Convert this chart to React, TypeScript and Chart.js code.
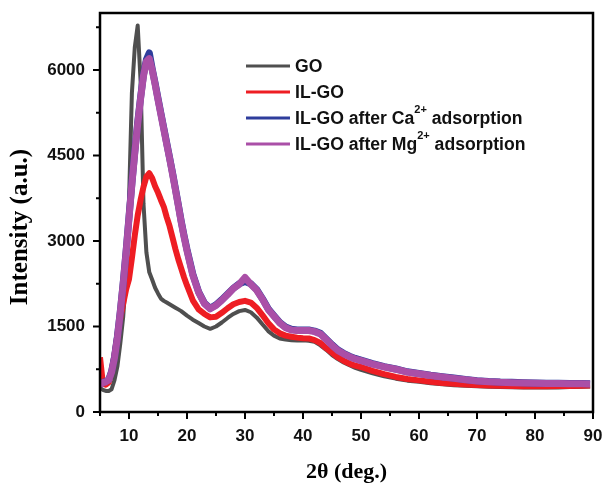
import React, { useEffect, useRef } from "react";
import { Chart, registerables } from "chart.js";

Chart.register(...registerables);

const twoTheta = [
  5, 5.5, 6, 6.5, 7, 7.5, 8, 8.5, 9, 9.5, 10, 10.5, 11, 11.5, 12, 12.5, 13, 13.5, 14, 14.5, 15, 15.5, 16, 16.5, 17, 17.5, 18, 18.5, 19, 19.5, 20,
  21, 22, 23, 24, 25, 26, 27, 28, 29, 30, 31, 32, 33, 34, 35, 36, 37, 38, 39, 40, 41, 42, 43, 44, 45, 46, 47, 48, 49, 50,
  52, 54, 56, 58, 60, 62, 64, 66, 68, 70, 72, 74, 76, 78, 80, 82, 84, 86, 88, 89.5,
];

const goValues = [
  420, 390, 370, 370, 400, 560, 800, 1200, 1670, 2400, 3700, 5600, 6400, 6780, 5800, 3650, 2800, 2450, 2320, 2180, 2080, 1990, 1950, 1920, 1890, 1860, 1830, 1800, 1770, 1730, 1690,
  1620, 1560, 1500, 1460, 1500, 1570, 1650, 1720, 1770, 1790, 1750, 1660, 1540, 1420, 1340, 1290, 1270, 1260, 1255, 1260, 1250, 1230, 1170, 1090, 1000, 930, 870, 820, 775, 740,
  680, 625, 585, 550, 530, 505, 485, 470, 460, 450, 445, 440, 435, 430, 428, 430, 432, 438, 442, 448,
];

const ilgoValues = [
  960, 500, 480, 520, 700, 1000, 1350, 1650, 1900, 2150, 2330, 2700, 3100, 3450, 3720, 3950, 4130, 4190, 4100, 3960, 3850, 3720, 3600, 3420, 3260, 3060, 2860, 2680, 2520, 2360, 2220,
  1960, 1800, 1720, 1660, 1670, 1740, 1820, 1890, 1930, 1950, 1920, 1830, 1700, 1560, 1450, 1380, 1340, 1320, 1305, 1295, 1290, 1260, 1210, 1120, 1040, 960, 900, 850, 815, 790,
  720, 665, 615, 580, 555, 530, 510, 495, 482, 472, 466, 460, 456, 452, 450, 452, 455, 457, 460, 465,
];

const caValues = [
  480, 520, 535, 565, 710, 960, 1320, 1760, 2260, 2820, 3420, 4020, 4570, 5080, 5520, 5920, 6180, 6300, 6020, 5770, 5500, 5240, 4980, 4720, 4460, 4200, 3920, 3640, 3350, 3090, 2850,
  2420, 2110, 1910, 1820, 1880, 1970, 2070, 2170, 2250, 2290, 2250, 2150, 1990, 1810, 1690, 1570, 1490, 1450, 1440, 1440, 1440, 1420, 1380, 1280, 1180, 1090, 1030, 980, 940, 910,
  850, 795, 755, 705, 675, 645, 620, 595, 570, 550, 535, 525, 520, 515, 510, 505, 503, 500, 498, 495,
];

const mgValues = [
  470, 515, 530, 560, 700, 950, 1300, 1750, 2250, 2800, 3400, 4000, 4550, 5050, 5500, 5900, 6150, 6200, 6000, 5750, 5480, 5220, 4960, 4700, 4450, 4180, 3900, 3620, 3330, 3070, 2830,
  2400, 2100, 1900, 1810, 1870, 1960, 2060, 2170, 2240, 2360, 2240, 2140, 1980, 1800, 1680, 1560, 1480, 1440, 1430, 1430, 1430, 1410, 1370, 1270, 1170, 1080, 1020, 970, 930, 900,
  840, 790, 750, 700, 670, 640, 615, 590, 565, 545, 530, 520, 515, 510, 505, 500, 500, 495, 495, 490,
];

const seriesNames = ["GO", "IL-GO", "IL-GO after Ca2+ adsorption", "IL-GO after Mg2+ adsorption"];
const seriesColors = ["#4f4f4f", "#ee1d23", "#2e3d9c", "#aa4fa7"];
const seriesWidths = [4, 6, 7, 7];
const yMajorTicks = [0, 1500, 3000, 4500, 6000];
const yMinorTicks = [750, 2250, 3750, 5250, 6750];
const xMajorTicks = [10, 20, 30, 40, 50, 60, 70, 80, 90];
const xMinorTicks = [5, 15, 25, 35, 45, 55, 65, 75, 85];
const xTitle = "2θ (deg.)";
const yTitle = "Intensity (a.u.)";

const allSeries = [goValues, ilgoValues, caValues, mgValues];

const framePlugin = {
  id: "frame",
  afterDatasetsDraw(chart: any) {
    const { ctx, chartArea } = chart;
    const { left, right, top, bottom } = chartArea;
    const xs = chart.scales.x;
    const ys = chart.scales.y;
    ctx.save();
    ctx.strokeStyle = "#000";
    ctx.lineWidth = 2.5;
    ctx.beginPath();
    ctx.rect(left, top, right - left, bottom - top);
    ctx.stroke();
    ctx.lineWidth = 2;
    ctx.beginPath();
    for (const v of yMajorTicks) {
      const y = ys.getPixelForValue(v);
      ctx.moveTo(left, y);
      ctx.lineTo(left - 7, y);
    }
    for (const v of yMinorTicks) {
      const y = ys.getPixelForValue(v);
      ctx.moveTo(left, y);
      ctx.lineTo(left - 4, y);
    }
    for (const v of xMajorTicks) {
      const x = xs.getPixelForValue(v);
      ctx.moveTo(x, bottom);
      ctx.lineTo(x, bottom + 7);
    }
    for (const v of xMinorTicks) {
      const x = xs.getPixelForValue(v);
      ctx.moveTo(x, bottom);
      ctx.lineTo(x, bottom + 4);
    }
    ctx.stroke();

    // axis titles
    ctx.fillStyle = "#000";
    ctx.font = "bold 22px 'Liberation Serif', 'Times New Roman', serif";
    ctx.textAlign = "center";
    ctx.textBaseline = "alphabetic";
    ctx.fillText(xTitle, (left + right) / 2, 478);
    ctx.save();
    ctx.translate(27, 227);
    ctx.rotate(-Math.PI / 2);
    ctx.font = "bold 25px 'Liberation Serif', 'Times New Roman', serif";
    ctx.fillText(yTitle, 0, 0);
    ctx.restore();

    // legend
    const lx0 = 246;
    const lx1 = 290;
    const tx = 295;
    const rowY = [66, 92, 118, 144];
    seriesNames.forEach((name, i) => {
      const y = rowY[i];
      ctx.strokeStyle = seriesColors[i];
      ctx.lineWidth = 3;
      ctx.beginPath();
      ctx.moveTo(lx0, y);
      ctx.lineTo(lx1, y);
      ctx.stroke();
      ctx.fillStyle = "#111";
      ctx.textAlign = "left";
      ctx.textBaseline = "middle";
      const parts = name.split(/(\d\+)/);
      let x = tx;
      parts.forEach((p) => {
        if (/^\d\+$/.test(p)) {
          ctx.font = "bold 11px 'Liberation Sans', Arial, sans-serif";
          ctx.fillText(p, x, y - 8);
          x += ctx.measureText(p).width;
        } else {
          ctx.font = "bold 17.6px 'Liberation Sans', Arial, sans-serif";
          ctx.fillText(p, x, y + 1);
          x += ctx.measureText(p).width;
        }
      });
    });
    ctx.restore();
  },
};

const tickFont = { family: "'Liberation Sans', Arial, sans-serif", size: 17, weight: "bold" as const };

export default function App() {
  const ref = useRef<HTMLCanvasElement | null>(null);
  useEffect(() => {
    if (!ref.current) return;
    const chart = new Chart(ref.current, {
      type: "line",
      data: {
        datasets: allSeries.map((vals, i) => ({
          label: seriesNames[i],
          data: twoTheta.map((x, j) => ({ x, y: vals[j] })),
          borderColor: seriesColors[i],
          backgroundColor: seriesColors[i],
          borderWidth: seriesWidths[i],
          pointRadius: 0,
          tension: 0,
          borderJoinStyle: "round" as const,
          order: 4 - i,
        })),
      },
      options: {
        animation: false,
        responsive: false,
        devicePixelRatio: 1,
        layout: { padding: { left: 0, top: 13, right: 12, bottom: 0 } },
        plugins: { legend: { display: false }, tooltip: { enabled: false } },
        scales: {
          x: {
            type: "linear",
            min: 5,
            max: 90,
            grid: { display: false, drawTicks: false },
            border: { display: false },
            ticks: {
              autoSkip: false,
              maxRotation: 0,
              padding: 14,
              color: "#111",
              font: tickFont,
              callback: (v: any) => String(v),
            },
            afterBuildTicks: (s: any) => {
              s.ticks = xMajorTicks.map((v) => ({ value: v }));
            },
            afterFit: (s: any) => {
              s.height = 74;
              s.paddingLeft = 0;
              s.paddingRight = 0;
            },
          },
          y: {
            type: "linear",
            min: 0,
            max: 7000,
            grid: { display: false, drawTicks: false },
            border: { display: false },
            ticks: {
              autoSkip: false,
              padding: 15,
              color: "#111",
              font: tickFont,
              callback: (v: any) => String(v),
            },
            afterBuildTicks: (s: any) => {
              s.ticks = yMajorTicks.map((v) => ({ value: v }));
            },
            afterFit: (s: any) => {
              s.width = 100;
              s.paddingTop = 0;
              s.paddingBottom = 0;
            },
          },
        },
      },
      plugins: [framePlugin],
    });
    return () => chart.destroy();
  }, []);
  return (
    <div style={{ position: "fixed", left: 0, top: 0, width: 605, height: 486, background: "#fff" }}>
      <canvas ref={ref} width={605} height={486} style={{ width: 605, height: 486 }} />
    </div>
  );
}
